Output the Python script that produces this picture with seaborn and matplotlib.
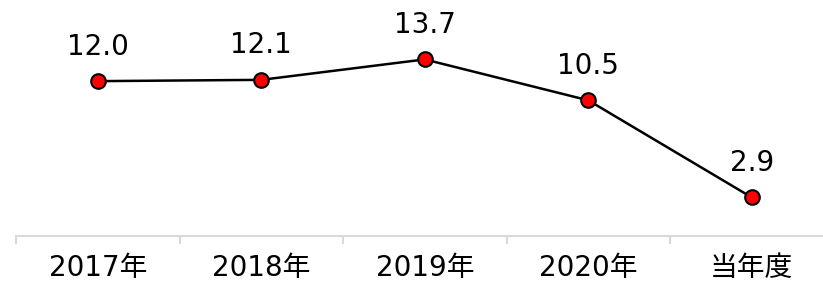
import matplotlib
matplotlib.use("Agg")
import matplotlib.pyplot as plt
import numpy as np
import pandas as pd
import seaborn as sns

categories = ["2017年", "2018年", "2019年", "2020年", "当年度"]
values = [12.0, 12.1, 13.7, 10.5, 2.9]

sns.set_style("white")
plt.rcParams["font.family"] = ["DejaVu Sans", "Noto Sans CJK JP"]

df = pd.DataFrame({"year": categories, "value": values})

W, H = 823, 282
fig = plt.figure(figsize=(W / 100, H / 100), dpi=100)
# axis line sits at y~236 px; category slots are ~163.5 px wide starting at x=16
ax = fig.add_axes([16 / W, (H - 236) / H, 817.5 / W, 236 / H])

sns.lineplot(
    data=df,
    x="year",
    y="value",
    ax=ax,
    color="black",
    linewidth=1.8,
    marker="o",
    markersize=10.5,
    markerfacecolor="#ff0000",
    markeredgecolor="black",
    markeredgewidth=1.5,
    sort=False,
)

for i, v in enumerate(values):
    ax.annotate(
        f"{v:.1f}",
        (i, v),
        xytext=(0, 19),
        textcoords="offset points",
        ha="center",
        va="baseline",
        fontsize=20,
        color="black",
    )

ax.set_xlim(-0.5, len(categories) - 0.5)
ax.set_ylim(-0.12, 18.35)
ax.set_yticks([])
ax.set_xlabel("")
ax.set_ylabel("")

for side in ["top", "right", "left"]:
    ax.spines[side].set_visible(False)
ax.spines["bottom"].set_color("#d9d9d9")
ax.spines["bottom"].set_linewidth(1.5)

ax.set_xticks(range(len(categories)))
ax.set_xticklabels(categories, fontsize=20, color="black")
ax.tick_params(axis="x", which="major", length=0, pad=13, labelcolor="black")
ax.set_xticks(np.arange(-0.5, len(categories), 1.0), minor=True)
ax.tick_params(axis="x", which="minor", bottom=True, length=6, width=1.5,
               color="#d9d9d9", direction="out")

fig.savefig("out.png", dpi=100)
